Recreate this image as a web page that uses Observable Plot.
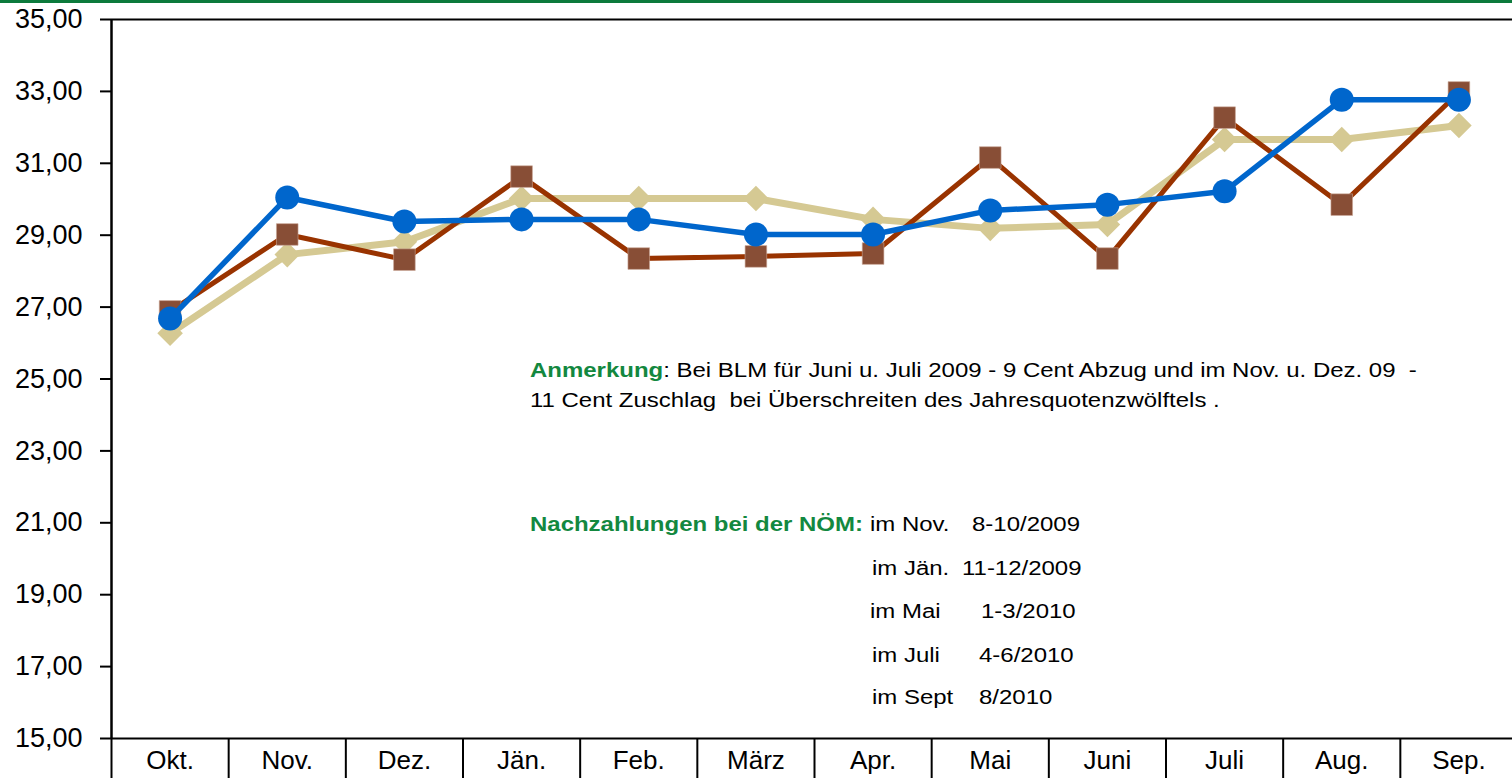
<!DOCTYPE html>
<html>
<head>
<meta charset="utf-8">
<script src="https://cdn.jsdelivr.net/npm/d3@7"></script>
<script src="https://cdn.jsdelivr.net/npm/@observablehq/plot@0.6"></script>
<style>
  html, body { margin: 0; padding: 0; background: #fff; overflow: hidden; }
  #wrap { position: relative; width: 1512px; height: 778px; }
  #topbar { position: absolute; left: 0; top: 0; width: 1512px; height: 3px; background: #0c7a3c; }
  svg text.note { white-space: pre; }
</style>
</head>
<body>
<div id="wrap"><div id="topbar"></div></div>
<script>
// ---- data ----
const months = ["Okt.", "Nov.", "Dez.", "Jän.", "Feb.", "März", "Apr.", "Mai", "Juni", "Juli", "Aug.", "Sep."];
const tanValues   = [26.27, 28.46, 28.82, 30.02, 30.02, 30.02, 29.44, 29.19, 29.30, 31.66, 31.66, 32.05];
const brownValues = [26.88, 29.02, 28.32, 30.63, 28.35, 28.41, 28.49, 31.16, 28.35, 32.27, 29.85, 32.97];
const blueValues  = [26.68, 30.05, 29.38, 29.44, 29.44, 29.02, 29.02, 29.69, 29.85, 30.22, 32.77, 32.77];
const yTicks = [15, 17, 19, 21, 23, 25, 27, 29, 31, 33, 35];

const toRows = (vals) => vals.map((v, i) => ({i, month: months[i], value: v}));
const tanRows = toRows(tanValues);
const brownRows = toRows(brownValues);
const blueRows = toRows(blueValues);
const centers = months.map((m, i) => i);
const bounds = d3.range(months.length + 1).map(i => i - 0.5);

const font = '"Liberation Sans", Arial, Helvetica, sans-serif';

const chart = Plot.plot({
  width: 1512,
  height: 778,
  marginLeft: 111,
  marginRight: 0,
  marginTop: 19,
  marginBottom: 40,
  style: {fontFamily: font, fontSize: "26px", color: "#000", background: "transparent"},
  x: {type: "linear", domain: [-0.5, 11.5], range: [111, 1517]},
  y: {domain: [15, 35]},
  marks: [
    Plot.ruleY([15, 35], {stroke: "#000", strokeWidth: 2}),
    Plot.ruleX([-0.5], {stroke: "#000", strokeWidth: 2.5}),
    Plot.axisY(yTicks, {
      tickFormat: d => d.toFixed(2).replace(".", ","),
      tickSize: 11, tickPadding: 18, strokeWidth: 2, label: null, fontSize: 27
    }),
    Plot.axisX(bounds, {tickSize: 40, strokeWidth: 2, stroke: "#000", tickFormat: () => "", label: null}),
    Plot.axisX(centers, {tickFormat: i => months[i], tickSize: 0, tickPadding: 12, fontSize: 26, label: null}),
    // tan series
    Plot.line(tanRows, {x: "i", y: "value", stroke: "#d5c993", strokeWidth: 7}),
    Plot.dot(tanRows, {x: "i", y: "value", symbol: "diamond2", r: 11.5, fill: "#d5c993", stroke: "none"}),
    // brown series
    Plot.line(brownRows, {x: "i", y: "value", stroke: "#993300", strokeWidth: 5}),
    Plot.dot(brownRows, {x: "i", y: "value", symbol: "square", r: 12.2, fill: "#884e36", stroke: "#c9a696", strokeWidth: 0.6}),
    // blue series
    Plot.line(blueRows, {x: "i", y: "value", stroke: "#0066cc", strokeWidth: 5.5}),
    Plot.dot(blueRows, {x: "i", y: "value", symbol: "circle", r: 12, fill: "#0066cc", stroke: "none"})
  ]
});

document.getElementById("wrap").appendChild(chart);

// ---- annotations (real text) ----
const svg = d3.select(chart);
const green = "#13883f";
const noteSize = 19.5;
const sx = 1.23;
function note(x, y, parts) {
  const t = svg.append("text")
    .attr("class", "note")
    .attr("text-anchor", "start")
    .attr("transform", `translate(${x},${y}) scale(${sx},1)`)
    .attr("font-family", font)
    .attr("font-size", noteSize)
    .attr("xml:space", "preserve");
  parts.forEach(p => {
    t.append("tspan")
      .attr("fill", p.green ? green : "#000")
      .attr("font-weight", p.green ? "bold" : "normal")
      .text(p.t);
  });
}
note(530, 377, [{t: "Anmerkung", green: true}, {t: ": Bei BLM für Juni u. Juli 2009 - 9 Cent Abzug und im Nov. u. Dez. 09  -"}]);
note(530, 407, [{t: "11 Cent Zuschlag  bei Überschreiten des Jahresquotenzwölftels ."}]);
note(530, 531, [{t: "Nachzahlungen bei der NÖM:", green: true}]);
const payLabels = ["im Nov.", "im Jän.", "im Mai", "im Juli", "im Sept"];
const payPeriods = ["8-10/2009", "11-12/2009", "1-3/2010", "4-6/2010", "8/2010"];
const payX1 = [870, 872, 870, 872, 872];
const payX2 = [972, 962, 981, 979, 979];
const payY = [531, 575, 618, 662, 704];
payLabels.forEach((l, k) => {
  note(payX1[k], payY[k], [{t: l}]);
  note(payX2[k], payY[k], [{t: payPeriods[k]}]);
});
</script>
</body>
</html>
